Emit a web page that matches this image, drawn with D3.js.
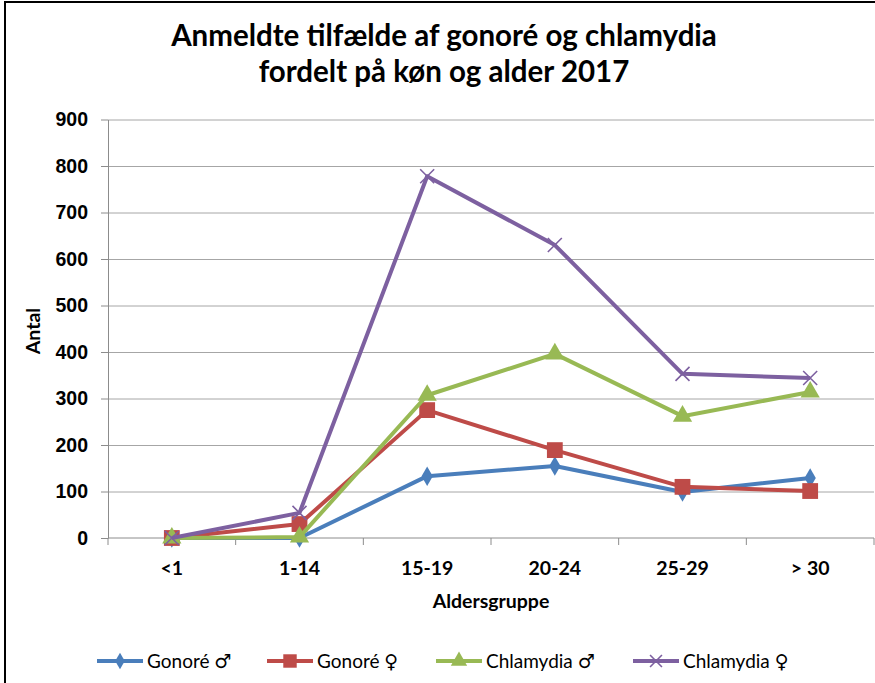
<!DOCTYPE html>
<html>
<head>
<meta charset="utf-8">
<script src="https://cdn.jsdelivr.net/npm/d3@7"></script>
<style>
  body { margin: 0; background: #fff; }
  svg { display: block; font-family: Lato, "Open Sans", "DejaVu Sans", sans-serif; }
  .grid line { stroke: #a6a6a6; stroke-width: 1; }
  .grid path { display: none; }
  .axis path, .axis line { stroke: #8c8c8c; }
  .axis text { font-weight: bold; font-size: 19.5px; fill: #000; }
</style>
</head>
<body>
<svg id="chart"></svg>
<script>
// data
const ageGroups = ["<1", "1-14", "15-19", "20-24", "25-29", "> 30"];
const gonoreMale = [0, 0, 133, 155, 99, 129];
const gonoreFemale = [0, 30, 275, 189, 110, 101];
const chlamydiaMale = [0, 2, 307, 396, 262, 314];
const chlamydiaFemale = [0, 54, 778, 630, 353, 344];
const yTicks = [0, 100, 200, 300, 400, 500, 600, 700, 800, 900];

const seriesNames = ["Gonoré ♂", "Gonoré ♀", "Chlamydia ♂", "Chlamydia ♀"];
const seriesValues = [gonoreMale, gonoreFemale, chlamydiaMale, chlamydiaFemale];
const colors = ["#4a7ebb", "#be4b48", "#98b954", "#7d60a0"];
const markers = ["diamond", "square", "triangle", "x"];

const svgWidth = 875, svgHeight = 683;
const svg = d3.select("#chart").attr("width", svgWidth).attr("height", svgHeight);

// chart frame
svg.append("rect")
  .attr("x", 5).attr("y", 2)
  .attr("width", svgWidth + 10).attr("height", svgHeight + 10)
  .attr("fill", "none").attr("stroke", "#000").attr("stroke-width", 2);

const margin = { top: 119.5, left: 108, right: 1, bottom: 145 };
const width = svgWidth - margin.left - margin.right;
const height = svgHeight - margin.top - margin.bottom;

const x = d3.scaleBand().domain(ageGroups).range([0, width]);
const y = d3.scaleLinear().domain([0, 900]).range([height, 0]);

const g = svg.append("g").attr("transform", `translate(${margin.left},${margin.top})`);

// 网格线
g.append("g")
  .attr("class", "grid")
  .call(d3.axisLeft(y).tickValues(yTicks.slice(1)).tickSize(-width).tickFormat(""));

// y 轴
g.append("g")
  .attr("class", "axis")
  .call(d3.axisLeft(y).tickValues(yTicks).tickSize(7).tickPadding(13).tickSizeOuter(0));

// x 轴 (ticks on category boundaries)
const xAxis = g.append("g")
  .attr("class", "axis")
  .attr("transform", `translate(0,${height})`);
xAxis.append("line").attr("x1", 0).attr("x2", width).attr("stroke", "#8c8c8c");
xAxis.selectAll(".bound")
  .data(d3.range(ageGroups.length + 1))
  .join("line")
  .attr("class", "bound")
  .attr("x1", d => d * x.step()).attr("x2", d => d * x.step())
  .attr("y1", 0).attr("y2", 7);
xAxis.selectAll("text")
  .data(ageGroups)
  .join("text")
  .attr("x", d => x(d) + x.bandwidth() / 2)
  .attr("y", 37)
  .attr("text-anchor", "middle")
  .text(d => d);

// axis titles
svg.append("text")
  .attr("transform", "translate(40,331) rotate(-90)")
  .attr("text-anchor", "middle")
  .style("font-weight", "bold").style("font-size", "19.5px")
  .text("Antal");
svg.append("text")
  .attr("x", 491).attr("y", 608)
  .attr("text-anchor", "middle")
  .style("font-weight", "bold").style("font-size", "19.5px")
  .text("Aldersgruppe");

// title
const title = svg.append("text")
  .attr("text-anchor", "middle")
  .style("font-weight", "bold").style("font-size", "29.5px");
title.append("tspan").attr("x", 444).attr("y", 46).text("Anmeldte tilfælde af gonoré og chlamydia");
title.append("tspan").attr("x", 444).attr("y", 82).text("fordelt på køn og alder 2017");

// 标记
function drawMarker(sel, type, color, scale = 1) {
  if (type === "x") {
    const s = 7 * scale;
    sel.append("path")
      .attr("d", `M${-s},${-s}L${s},${s}M${-s},${s}L${s},${-s}`)
      .attr("stroke", color).attr("stroke-width", 1.6).attr("fill", "none");
    return;
  }
  const sym = { diamond: d3.symbolDiamond, square: d3.symbolSquare, triangle: d3.symbolTriangle }[type];
  const size = { diamond: 110, square: 250, triangle: 160 }[type] * scale * scale;
  sel.append("path").attr("d", d3.symbol(sym, size)()).attr("fill", color);
}

const line = d3.line()
  .x((d, i) => x(ageGroups[i]) + x.bandwidth() / 2)
  .y(d => y(d));

seriesValues.forEach((vals, k) => {
  g.append("path")
    .datum(vals)
    .attr("d", line)
    .attr("fill", "none")
    .attr("stroke", colors[k])
    .attr("stroke-width", 4)
    .attr("stroke-linejoin", "round");
  vals.forEach((v, i) => {
    const m = g.append("g")
      .attr("transform", `translate(${x(ageGroups[i]) + x.bandwidth() / 2},${y(v)})`);
    drawMarker(m, markers[k], colors[k]);
  });
});

// legend
const legendX = [97, 267, 436, 633];
const legend = svg.append("g").attr("transform", "translate(0,661)");
seriesNames.forEach((name, k) => {
  const item = legend.append("g").attr("transform", `translate(${legendX[k]},0)`);
  item.append("line").attr("x1", 0).attr("x2", 46)
    .attr("stroke", colors[k]).attr("stroke-width", 4);
  const m = item.append("g").attr("transform", "translate(23,0)");
  drawMarker(m, markers[k], colors[k], 0.85);
  item.append("text").attr("x", 50).attr("y", 7)
    .style("font-size", "19px")
    .text(name);
});
</script>
</body>
</html>
